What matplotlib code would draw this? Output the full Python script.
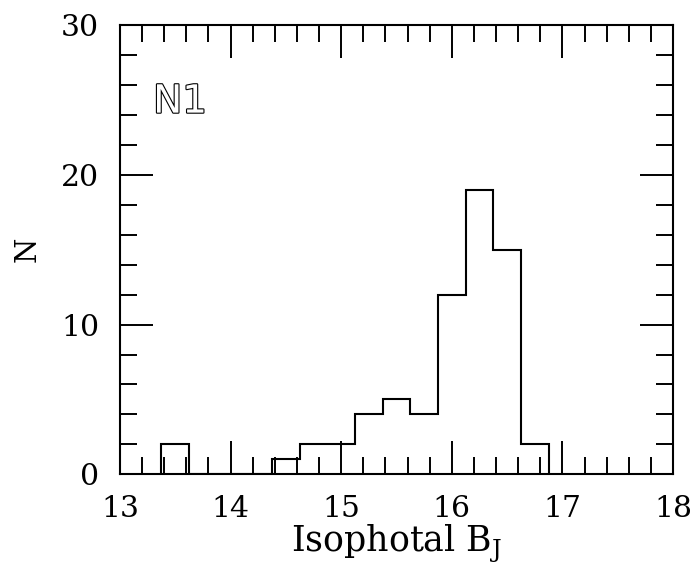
import matplotlib
matplotlib.use("Agg")
import matplotlib.pyplot as plt
import matplotlib.patheffects as pe
import numpy as np
from matplotlib.ticker import MultipleLocator

# Data: histogram of isophotal B_J magnitudes (bin width 0.25)
bin_centers = [13.5, 13.75, 14.0, 14.25, 14.5, 14.75, 15.0, 15.25, 15.5,
               15.75, 16.0, 16.25, 16.5, 16.75]
counts = [2, 0, 0, 0, 1, 2, 2, 4, 5, 4, 12, 19, 15, 2]
bin_width = 0.25
x_ticks = [13, 14, 15, 16, 17, 18]
y_ticks = [0, 10, 20, 30]
panel_label = "N1"
xlabel = r"Isophotal B$_\mathregular{J}$"
ylabel = "N"

centers = np.array(bin_centers)
edges = np.append(centers - bin_width / 2, centers[-1] + bin_width / 2)

fig = plt.figure(figsize=(7.0, 5.65), dpi=100)
ax = fig.add_axes([0.1714, 0.1605, 0.79, 0.7952])

ax.stairs(counts, edges, baseline=0, fill=False, color="black", linewidth=1.5)

ax.set_xlim(13, 18)
ax.set_ylim(0, 30)
ax.set_xticks(x_ticks)
ax.set_yticks(y_ticks)
ax.xaxis.set_minor_locator(MultipleLocator(0.2))
ax.yaxis.set_minor_locator(MultipleLocator(2))

ax.tick_params(which="both", direction="in", top=True, right=True,
               width=1.4, color="black")
ax.tick_params(which="major", length=23.5, labelsize=21.5, pad=15)
ax.tick_params(which="minor", length=12.5)
for lab in ax.get_xticklabels() + ax.get_yticklabels():
    lab.set_family("DejaVu Serif")

for s in ax.spines.values():
    s.set_linewidth(1.5)

ax.set_xlabel(xlabel, family="DejaVu Serif", fontsize=25, labelpad=0)
ax.set_ylabel(ylabel, family="DejaVu Serif", fontsize=21, labelpad=14)

ax.text(13.30, 24.15, panel_label, fontsize=28, family="DejaVu Sans",
        color="white", va="baseline", ha="left",
        path_effects=[pe.withStroke(linewidth=1.6, foreground="black")])

fig.savefig("out.png", dpi=100)
